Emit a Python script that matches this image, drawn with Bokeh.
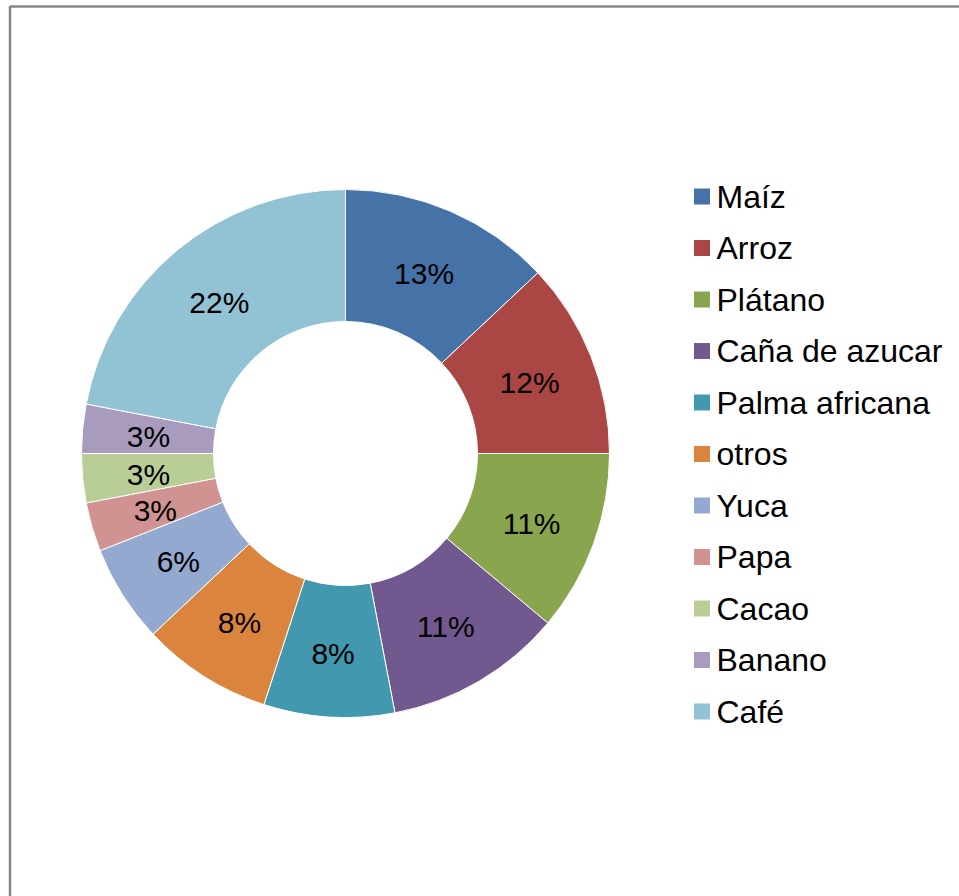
import math
from bokeh.plotting import figure
from bokeh.models import Range1d, ColumnDataSource
from bokeh.core.properties import value
from bokeh.embed import file_html
from bokeh.resources import INLINE

# ---- data ----
crops = ["Maíz", "Arroz", "Plátano", "Caña de azucar", "Palma africana", "otros",
         "Yuca", "Papa", "Cacao", "Banano", "Café"]
shares = [13.0, 12.0, 11.1, 10.9, 8.0, 8.0, 6.0, 3.0, 3.0, 3.0, 22.0]
colors = ["#4572A7", "#AA4643", "#89A54E", "#71588F", "#4198AF", "#DB843D",
          "#93A9CF", "#D19392", "#B9CD96", "#A99BBD", "#92C3D5"]

# ---- layout (pixel space of the page) ----
W, H = 959, 896
def px(x):
    return x
def py(y):
    return H - y

cx, cy = px(345), py(453)
r_in, r_out = 132, 264
r_lab = (r_in + r_out) / 2

total = sum(shares)
starts, ends, lx, ly, labels = [], [], [], [], []
cum = 0.0
for s in shares:
    a0 = math.pi / 2 - 2 * math.pi * cum / total
    cum += s
    a1 = math.pi / 2 - 2 * math.pi * cum / total
    starts.append(a0)
    ends.append(a1)
    am = (a0 + a1) / 2
    lx.append(cx + r_lab * math.cos(am))
    ly.append(cy + r_lab * math.sin(am) - 2)
    labels.append("%d%%" % round(s))

src = ColumnDataSource(dict(start=starts, end=ends, color=colors,
                            lx=lx, ly=ly, label=labels))

p = figure(width=W, height=H, x_range=Range1d(0, W), y_range=Range1d(0, H),
           output_backend="svg", toolbar_location=None, min_border=0)
p.xaxis.visible = False
p.yaxis.visible = False
p.grid.visible = False
p.outline_line_color = None
p.background_fill_color = "white"
p.border_fill_color = "white"

# frame border (top and left visible)
p.line(x=[px(9.5), px(9.5)], y=[py(5.5), py(910)], line_color="#868686", line_width=2.5)
p.line(x=[px(9.5), px(980)], y=[py(6), py(6)], line_color="#868686", line_width=2.5)

p.annular_wedge(x=cx, y=cy, inner_radius=r_in, outer_radius=r_out,
                start_angle="start", end_angle="end", direction="clock",
                fill_color="color", line_color="white", line_width=1, source=src)

p.text(x="lx", y="ly", text="label", source=src, text_font=value("Liberation Sans"),
       text_font_size="30px", text_align="center", text_baseline="middle",
       text_color="black")

# legend
row0, step = 196, 51.5
leg_y = [py(row0 + i * step) for i in range(len(crops))]
leg = ColumnDataSource(dict(y=leg_y, name=crops, color=colors))
p.rect(x=px(701.5), y="y", width=16, height=16, fill_color="color",
       line_color=None, source=leg)
p.text(x=px(716), y="y", text="name", source=leg, text_font=value("Liberation Sans"),
       text_font_size="32px", text_align="left", text_baseline="middle",
       text_color="black")

open("out.html", "w").write(file_html(p, INLINE))
